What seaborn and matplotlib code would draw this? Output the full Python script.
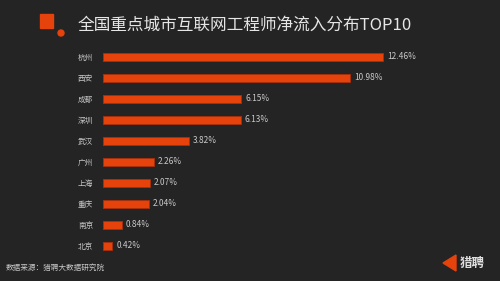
import matplotlib
matplotlib.use("Agg")
import matplotlib.pyplot as plt
import matplotlib.patches as mpatches
import seaborn as sns
import pandas as pd

cities = ["杭州", "西安", "成都", "深圳", "武汉", "广州", "上海", "重庆", "南京", "北京"]
values = [12.46, 10.98, 6.15, 6.13, 3.82, 2.26, 2.07, 2.04, 0.84, 0.42]
value_labels = ["12.46%", "10.98%", "6.15%", "6.13%", "3.82%", "2.26%", "2.07%", "2.04%", "0.84%", "0.42%"]
title = "全国重点城市互联网工程师净流入分布TOP10"
source = "数据来源：猎聘大数据研究院"
brand = "猎聘"

sns.set_theme(style="dark")
plt.rcParams['font.family'] = ['Noto Sans CJK SC', 'DejaVu Sans']

bg = "#242424"
bar_color = "#E5420C"
edge_color = "#A8300A"
text_color = "#C8C8C8"

df = pd.DataFrame({"city": cities, "value": values})

fig = plt.figure(figsize=(5, 2.81), dpi=100)
fig.patch.set_facecolor(bg)
ax = fig.add_axes([103 / 500, 0.0872, 347 / 500, 210 / 281])
ax.set_facecolor(bg)

sns.barplot(data=df, x="value", y="city", ax=ax, color=bar_color,
            width=0.34, edgecolor=edge_color, linewidth=0.6, saturation=1)

ax.set_xlim(0, 347 / 22.47)
ax.set_ylim(9.5, -0.5)
ax.set_xlabel("")
ax.set_ylabel("")
ax.set_xticks([])
ax.tick_params(axis="y", length=0, pad=7, labelsize=5.5, labelcolor=text_color)
for s in ax.spines.values():
    s.set_visible(False)
ax.grid(False)

for i, (v, lab) in enumerate(zip(values, value_labels)):
    ax.text(v + 0.18, i, lab, va="center", ha="left", fontsize=6, color=text_color)

fig.text(78 / 500, 1 - 25 / 281, title, fontsize=12, color="#E6E6E6", va="center", ha="left",
         fontweight="medium")
fig.text(6 / 500, 1 - 268 / 281, source, fontsize=5.5, color=text_color, va="center", ha="left")
fig.text(460 / 500, 1 - 263 / 281, brand, fontsize=9, color="#E0E0E0", va="center", ha="left",
         fontweight="bold")

# decorative logo elements
fig.patches.append(mpatches.Rectangle((40 / 500, 1 - 28 / 281), 13 / 500, 14 / 281,
                                      transform=fig.transFigure, color="#E5420C", figure=fig))
fig.patches.append(mpatches.Ellipse((61 / 500, 1 - 33 / 281), 6 / 500, 6 / 281,
                                    transform=fig.transFigure, color="#E5420C", figure=fig))
fig.patches.append(mpatches.Polygon([(443 / 500, 1 - 263 / 281), (456 / 500, 1 - 255 / 281),
                                     (456 / 500, 1 - 271 / 281)],
                                    transform=fig.transFigure, color="#E5420C", figure=fig))

fig.savefig("out.png", dpi=100, facecolor=bg)
